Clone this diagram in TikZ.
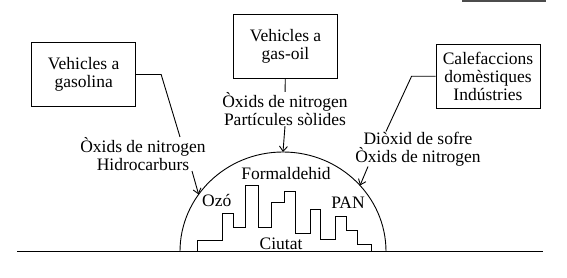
\documentclass[tikz,border=0pt]{standalone}
\usepackage{fontspec}
\setmainfont{Liberation Serif}
\usetikzlibrary{arrows.meta}

\begin{document}
\begin{tikzpicture}[x=1pt, y=1pt, >={Straight Barb[length=5pt,width=8pt]},
    font=\fontsize{17.5}{18}\selectfont, line width=0.9pt,
    b/.style={draw, align=center, minimum width=104pt, minimum height=64pt, inner sep=2pt},
    t/.style={align=center, inner sep=0pt}]
    \useasboundingbox (0,0) rectangle (567,278);

    % sources
    \node[b] (gas)   at (83.7,203.5) {Vehicles a\\gasolina};
    \node[b] (oil)   at (285.5,232)  {Vehicles a\\gas-oil};
    \node[b] (calef) at (488,201.7)  {Calefaccions\\domèstiques\\Indústries};

    % emissions
    \node[t] (emgas)   at (143,124)  {Òxids de nitrogen\\Hidrocarburs};
    \node[t] (emoil)   at (285,169)  {Òxids de nitrogen\\Partícules sòlides};
    \node[t] (emcalef) at (418,129)  {Diòxid de sofre\\Òxids de nitrogen};

    % ground and dome
    \draw (17,26.5) -- (543,26.5);
    \draw (180,26.5) arc[start angle=180, end angle=0, x radius=103, y radius=99.5];
    \path (283,26.5) ++(145:103 and 99.5) coordinate (dw)
          (283,26.5) ++(90:103 and 99.5)  coordinate (dn)
          (283,26.5) ++(41.6:103 and 99.5) coordinate (de);

    % city
    \draw (197,26.5) |- (222.3,37.7) |- (233.3,64.7) |- (245.7,50.7) |- (258.3,93)
          |- (271.7,51) |- (284.3,75.7) |- (295,86.5) |- (310,44.7) |- (320.7,69)
          |- (335,39) |- (346,61.7) |- (357.7,47.5) |- (371,34) -- (371,26.5);

    \node[t] (form) at (286,104.7) {Formaldehid};
    \node[t] (ozo)  at (216.7,77)  {Ozó};
    \node[t] (pan)  at (348,75.3)  {PAN};
    \node[t] (ciu)  at (281,34.7)  {Ciutat};

    % connectors
    \draw (gas.east) -- ++(25,0) -- ([xshift=37pt]emgas.north);
    \draw (oil) -- (emoil);
    \draw (calef.west) -- ++(-24,0) -- ([xshift=-32pt]emcalef.north);
    \draw[->] ([xshift=49pt]emgas.south) -- (dw);
    \draw[->] (emoil.south) -- (dn);
    \draw[->] ([xshift=-50pt]emcalef.south) -- (de);

    \draw[black!70, line width=1.2pt] (462,277) -- (546,277);
\end{tikzpicture}
\end{document}
